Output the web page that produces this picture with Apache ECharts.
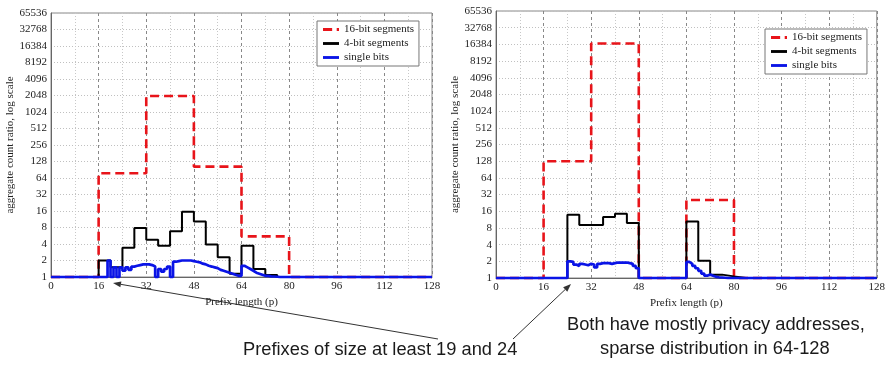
<!DOCTYPE html>
<html>
<head>
<meta charset="utf-8">
<script src="https://cdn.jsdelivr.net/npm/echarts@6/dist/echarts.min.js"></script>
<style>
html,body{margin:0;padding:0;background:#fff;}
#chart{width:888px;height:365px;}
</style>
</head>
<body>
<div id="chart"></div>
<script>
// ---- Data ----
var seriesNames = ['16-bit segments', '4-bit segments', 'single bits'];
var xTicks = [0, 16, 32, 48, 64, 80, 96, 112, 128];

// 16-bit segments (bins of 16 bits)
var leftSeg16 = [1, 78, 2000, 103, 5.5, 1, 1, 1];
var rightSeg16 = [1, 128, 17000, 1, 25.5, 1, 1, 1];

// 4-bit segments (bins of 4 bits)
var leftSeg4 = [1, 1, 1, 1, 2, 1.5, 3.4, 7.8, 4.8, 3.7, 6.8, 15.5, 10.3, 3.9, 2.3, 1.15,
                3.7, 1.4, 1.09, 1, 1, 1, 1, 1, 1, 1, 1, 1, 1, 1, 1, 1];
var rightSeg4 = [1, 1, 1, 1, 1, 1, 13.8, 9, 9, 12.6, 14.4, 9.8, 1, 1, 1, 1,
                 10.5, 2.05, 1.15, 1.07, 1, 1, 1, 1, 1, 1, 1, 1, 1, 1, 1, 1];

// single bits (128 values)
var leftBits = [1, 1, 1, 1, 1, 1, 1, 1, 1, 1, 1, 1, 1, 1, 1, 1,
                1, 1, 1, 2.0, 1, 1.5, 1, 1.5, 1.3, 1.5, 1.35, 1.55, 1.6, 1.65, 1.7, 1.7,
                1.7, 1.65, 1.55, 1, 1.4, 1.25, 1.4, 1.55, 1, 1.9, 1.95, 2.0, 2.0, 2.0, 2.0, 1.95,
                1.9, 1.85, 1.75, 1.7, 1.6, 1.55, 1.5, 1.45, 1.35, 1.3, 1.25, 1.2, 1.15, 1.1, 1.05, 1.05,
                1.6, 1.5, 1.4, 1.3, 1.2, 1.15, 1.1, 1.05, 1.05, 1.03, 1.02, 1.01, 1, 1, 1, 1,
                1, 1, 1, 1, 1, 1, 1, 1, 1, 1, 1, 1, 1, 1, 1, 1,
                1, 1, 1, 1, 1, 1, 1, 1, 1, 1, 1, 1, 1, 1, 1, 1,
                1, 1, 1, 1, 1, 1, 1, 1, 1, 1, 1, 1, 1, 1, 1, 1];
var rightBits = [1, 1, 1, 1, 1, 1, 1, 1, 1, 1, 1, 1, 1, 1, 1, 1,
                 1, 1, 1, 1, 1, 1, 1, 1, 2.0, 1.95, 1.75, 1.65, 1.8, 1.75, 1.7, 1.8,
                 1.75, 1.55, 1.8, 1.85, 1.85, 1.85, 1.8, 1.85, 1.9, 1.9, 1.9, 1.9, 1.85, 1.8, 1.65, 1.5,
                 1, 1, 1, 1, 1, 1, 1, 1, 1, 1, 1, 1, 1, 1, 1, 1,
                 1.95, 1.8, 1.65, 1.5, 1.35, 1.2, 1.1, 1.15, 1.1, 1.05, 1.03, 1.02, 1.01, 1, 1, 1,
                 1, 1, 1, 1, 1, 1, 1, 1, 1, 1, 1, 1, 1, 1, 1, 1,
                 1, 1, 1, 1, 1, 1, 1, 1, 1, 1, 1, 1, 1, 1, 1, 1,
                 1, 1, 1, 1, 1, 1, 1, 1, 1, 1, 1, 1, 1, 1, 1, 1];

var annotLeft = 'Prefixes of size at least 19 and 24';
var annotRight1 = 'Both have mostly privacy addresses,';
var annotRight2 = 'sparse distribution in 64-128';

// ---- Helpers ----
function stepData(vals, width) {
  var out = [];
  for (var i = 0; i < vals.length; i++) out.push([i * width, vals[i]]);
  out.push([vals.length * width, vals[vals.length - 1]]);
  return out;
}

var serif = '"Liberation Serif", "Times New Roman", serif';
var sans = '"Liberation Sans", Arial, sans-serif';

function xAxisCfg(gi) {
  return {
    type: 'value', gridIndex: gi, min: 0, max: 128, interval: 16,
    name: 'Prefix length (p)', nameLocation: 'middle', nameGap: 12,
    nameTextStyle: {fontFamily: serif, fontSize: 11, color: '#222'},
    axisLine: {show: true, onZero: false, lineStyle: {color: '#666', width: 1}},
    axisTick: {show: false},
    axisLabel: {fontFamily: serif, fontSize: 11, color: '#222', margin: 4},
    splitLine: {show: true, lineStyle: {color: '#888', type: [3, 3], width: 1}},
    minorTick: {show: false, splitNumber: 2},
    minorSplitLine: {show: true, lineStyle: {color: '#c8c8c8', type: [1, 2], width: 1}}
  };
}
function yAxisCfg(gi, gap) {
  return {
    type: 'log', logBase: 2, gridIndex: gi, min: 1, max: 65536, splitNumber: 16, interval: 1,
    name: 'aggregate count ratio, log scale', nameLocation: 'middle', nameGap: gap,
    nameTextStyle: {fontFamily: serif, fontSize: 11, color: '#222'},
    axisLine: {show: true, lineStyle: {color: '#666', width: 1}},
    axisTick: {show: false},
    axisLabel: {fontFamily: serif, fontSize: 11, color: '#222', margin: 4,
      formatter: function (v) { return Math.round(v).toString(); }},
    splitLine: {show: true, lineStyle: {color: '#c0c0c0', type: [1, 2], width: 1}},
    minorSplitLine: {show: false}
  };
}

function mkSeries(gi, seg16, seg4, bits) {
  return [
    {name: seriesNames[0], type: 'line', step: 'end', xAxisIndex: gi, yAxisIndex: gi,
     data: stepData(seg16, 16), symbol: 'none', clip: false,
     lineStyle: {color: '#e8141a', width: 2.6, type: [9, 5]}, itemStyle: {color: '#e8141a'}},
    {name: seriesNames[1], type: 'line', step: 'end', xAxisIndex: gi, yAxisIndex: gi,
     data: stepData(seg4, 4), symbol: 'none', clip: false,
     lineStyle: {color: '#000', width: 2}, itemStyle: {color: '#000'}},
    {name: seriesNames[2], type: 'line', step: 'end', xAxisIndex: gi, yAxisIndex: gi,
     data: stepData(bits, 1), symbol: 'none', clip: false,
     lineStyle: {color: '#0a14e6', width: 2.7}, itemStyle: {color: '#0a14e6'}}
  ];
}

function legendCfg(left, top) {
  return {
    data: [
      {name: seriesNames[0], icon: 'path://M0,4L8,4L8,6.5L0,6.5Z M12,4L14,4L14,6.5L12,6.5Z'},
      {name: seriesNames[1], icon: 'path://M0,4L14,4L14,6.5L0,6.5Z'},
      {name: seriesNames[2], icon: 'path://M0,4L14,4L14,6.5L0,6.5Z'}
    ],
    orient: 'vertical', left: left, top: top,
    backgroundColor: '#fff', borderColor: '#777', borderWidth: 1,
    padding: [2, 5, 2, 6], itemGap: 1, itemWidth: 16, itemHeight: 10,
    textStyle: {fontFamily: serif, fontSize: 11, color: '#222', lineHeight: 13},
    selectedMode: false
  };
}

function arrow(x1, y1, x2, y2) {
  var ang = Math.atan2(y2 - y1, x2 - x1);
  var L = 8, W = 3;
  var bx = x2 - L * Math.cos(ang), by = y2 - L * Math.sin(ang);
  var px = -Math.sin(ang) * W, py = Math.cos(ang) * W;
  return [
    {type: 'line', shape: {x1: x1, y1: y1, x2: bx, y2: by}, style: {stroke: '#333', lineWidth: 1}},
    {type: 'polygon', shape: {points: [[x2, y2], [bx + px, by + py], [bx - px, by - py]]},
     style: {fill: '#333'}}
  ];
}

var fontA = '18.3px ' + sans;
var graphics = [
  {type: 'text', left: 243, top: 341, style: {text: annotLeft, font: fontA, fill: '#1a1a1a'}},
  {type: 'text', left: 567, top: 316, style: {text: annotRight1, font: fontA, fill: '#1a1a1a'}},
  {type: 'text', left: 600, top: 340, style: {text: annotRight2, font: fontA, fill: '#1a1a1a'}}
].concat(arrow(438, 339, 113, 283)).concat(arrow(513, 339, 571, 284));

var option = {
  animation: false,
  backgroundColor: '#fff',
  grid: [
    {left: 51, width: 381, top: 13, bottom: 88, show: true, borderColor: '#888', borderWidth: 1, backgroundColor: 'transparent'},
    {left: 496, width: 384, top: 11, bottom: 87, show: true, borderColor: '#888', borderWidth: 1, backgroundColor: 'transparent'}
  ],
  xAxis: [xAxisCfg(0), xAxisCfg(1)],
  yAxis: [yAxisCfg(0, 30), yAxisCfg(1, 31)],
  legend: [legendCfg(317, 21), legendCfg(765, 29)],
  series: mkSeries(0, leftSeg16, leftSeg4, leftBits).concat(mkSeries(1, rightSeg16, rightSeg4, rightBits)),
  graphic: graphics
};

var chart = echarts.init(document.getElementById('chart'), null, {renderer: 'canvas'});
chart.setOption(option);
</script>
</body>
</html>
